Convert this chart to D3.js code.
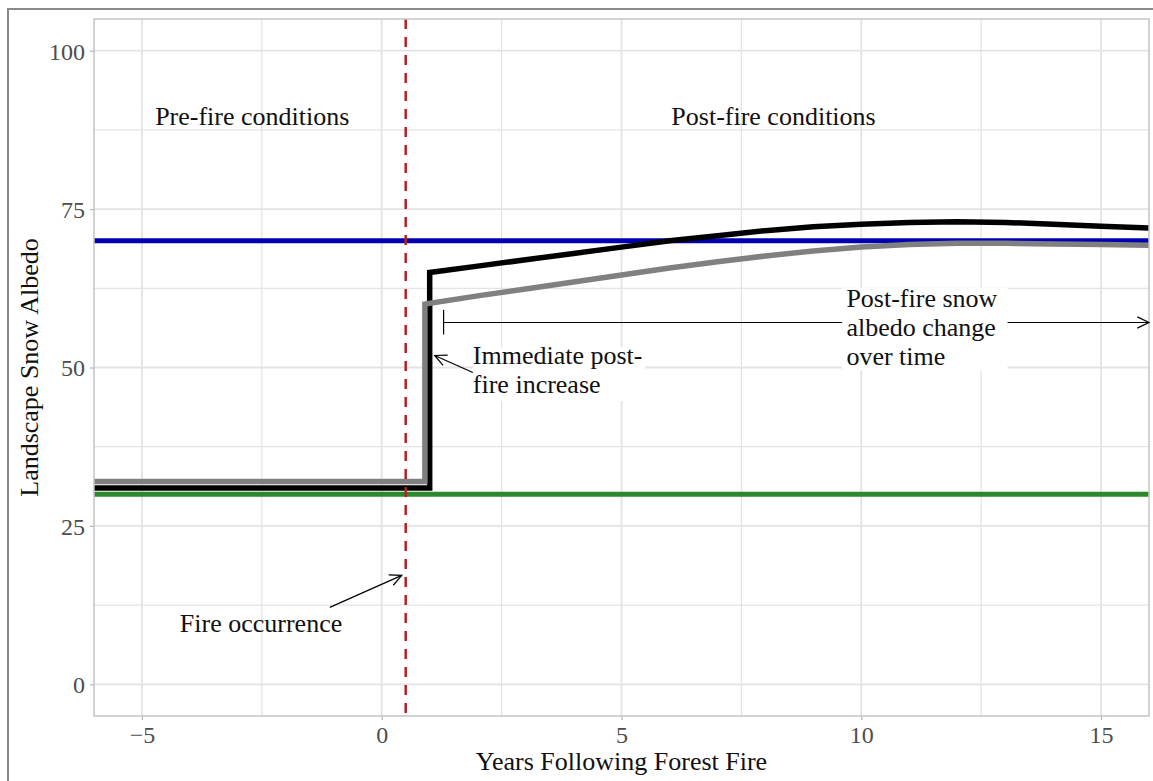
<!DOCTYPE html>
<html>
<head>
<meta charset="utf-8">
<script src="https://cdn.jsdelivr.net/npm/d3@7"></script>
<style>
  html, body { margin: 0; padding: 0; background: #fff; }
  svg { display: block; }
  text { font-family: "Liberation Serif", "Times New Roman", serif; }
</style>
</head>
<body>
<svg id="chart" width="1153" height="781"></svg>
<script>
// ---------- data ----------
const xDomain = [-6, 16];
const yDomain = [-5, 105];
const xTicks = [-5, 0, 5, 10, 15];
const xTickLabels = ["\u22125", "0", "5", "10", "15"];
const xMinor = [-2.5, 2.5, 7.5, 12.5];
const yTicks = [0, 25, 50, 75, 100];
const yTickLabels = ["0", "25", "50", "75", "100"];
const yMinor = [12.5, 37.5, 62.5, 87.5];

const fireYear = 0.5;
const unburnedAlbedo = 30;   // green reference
const openAlbedo = 70;       // blue reference

// black series (years, albedo)
const blackYears  = [-6, 1, 1, 2, 3, 4, 5, 6, 7, 8, 9, 10, 11, 12, 13, 14, 15, 16];
const blackValues = [31, 31, 65, 66, 67, 68, 69, 70, 70.8, 71.6, 72.2, 72.6, 72.9, 73.0, 72.9, 72.6, 72.3, 72.0];
// grey series
const greyYears  = [-6, 0.9, 0.9, 2, 3, 4, 5, 6, 7, 8, 9, 10, 11, 12, 13, 14, 15, 16];
const greyValues = [32, 32, 60, 61.3, 62.4, 63.5, 64.6, 65.7, 66.7, 67.6, 68.4, 69.0, 69.4, 69.6, 69.6, 69.5, 69.4, 69.3];

const xTitle = "Years Following Forest Fire";
const yTitle = "Landscape Snow Albedo";

// ---------- layout ----------
const svg = d3.select("#chart");
const W = 1153, H = 781;
const panel = { left: 94, top: 19, right: 1149, bottom: 716 };
const x = d3.scaleLinear().domain(xDomain).range([panel.left, panel.right]);
const y = d3.scaleLinear().domain(yDomain).range([panel.bottom, panel.top]);
const serif = '"Liberation Serif", "Times New Roman", serif';

svg.append("rect").attr("width", W).attr("height", H).attr("fill", "#fff");
// outer image frame
svg.append("rect").attr("x", 8).attr("y", 9).attr("width", W + 20).attr("height", H + 20)
  .attr("fill", "none").attr("stroke", "#8a8a8a").attr("stroke-width", 2);

const defs = svg.append("defs");
defs.append("clipPath").attr("id", "clip").append("rect")
  .attr("x", panel.left).attr("y", panel.top)
  .attr("width", panel.right - panel.left).attr("height", panel.bottom - panel.top);

// grid
const grid = svg.append("g");
const gridColor = "#e3e3e3";
grid.selectAll(".gxm").data(xMinor).join("line")
  .attr("x1", d => x(d)).attr("x2", d => x(d)).attr("y1", panel.top).attr("y2", panel.bottom)
  .attr("stroke", gridColor).attr("stroke-width", 1.2);
grid.selectAll(".gym").data(yMinor).join("line")
  .attr("y1", d => y(d)).attr("y2", d => y(d)).attr("x1", panel.left).attr("x2", panel.right)
  .attr("stroke", gridColor).attr("stroke-width", 1.2);
grid.selectAll(".gx").data(xTicks).join("line")
  .attr("x1", d => x(d)).attr("x2", d => x(d)).attr("y1", panel.top).attr("y2", panel.bottom)
  .attr("stroke", gridColor).attr("stroke-width", 1.8);
grid.selectAll(".gy").data(yTicks).join("line")
  .attr("y1", d => y(d)).attr("y2", d => y(d)).attr("x1", panel.left).attr("x2", panel.right)
  .attr("stroke", gridColor).attr("stroke-width", 1.8);

// axes
const xAxis = d3.axisBottom(x).tickValues(xTicks).tickSize(4).tickPadding(6)
  .tickFormat((d, i) => xTickLabels[i]);
const yAxis = d3.axisLeft(y).tickValues(yTicks).tickSize(4).tickPadding(5)
  .tickFormat((d, i) => yTickLabels[i]);
const gx = svg.append("g").attr("transform", `translate(0,${panel.bottom})`).call(xAxis);
const gy = svg.append("g").attr("transform", `translate(${panel.left},0)`).call(yAxis);
[gx, gy].forEach(g => {
  g.select(".domain").remove();
  g.selectAll(".tick line").attr("stroke", "#b3b3b3").attr("stroke-width", 1.2);
  g.selectAll(".tick text").attr("fill", "#4d4d4d").style("font-family", serif).style("font-size", "24px");
});
gx.selectAll(".tick text").attr("dy", "0.71em");
gy.selectAll(".tick text").attr("dy", "0.35em");

// plot marks
const plot = svg.append("g").attr("clip-path", "url(#clip)");
const line = d3.line().x(d => x(d[0])).y(d => y(d[1]));

plot.append("line").attr("x1", x(xDomain[0])).attr("x2", x(xDomain[1]))
  .attr("y1", y(openAlbedo)).attr("y2", y(openAlbedo))
  .attr("stroke", "#0000b0").attr("stroke-width", 5);
plot.append("path").datum(d3.zip(blackYears, blackValues)).attr("d", line)
  .attr("fill", "none").attr("stroke", "#000").attr("stroke-width", 5.5).attr("stroke-linejoin", "miter");
plot.append("path").datum(d3.zip(greyYears, greyValues)).attr("d", line)
  .attr("fill", "none").attr("stroke", "#808080").attr("stroke-width", 5.5).attr("stroke-linejoin", "miter");
plot.append("line").attr("x1", x(xDomain[0])).attr("x2", x(xDomain[1]))
  .attr("y1", y(unburnedAlbedo)).attr("y2", y(unburnedAlbedo))
  .attr("stroke", "#2a8a2a").attr("stroke-width", 5);
plot.append("line").attr("x1", x(fireYear)).attr("x2", x(fireYear))
  .attr("y1", panel.top).attr("y2", panel.bottom)
  .attr("stroke", "#b22222").attr("stroke-width", 2.5).attr("stroke-dasharray", "10,8");

// panel border
svg.append("rect").attr("x", panel.left).attr("y", panel.top)
  .attr("width", panel.right - panel.left).attr("height", panel.bottom - panel.top)
  .attr("fill", "none").attr("stroke", "#c4c4c4").attr("stroke-width", 1.5);

// ---------- annotations ----------
const ann = svg.append("g");
function arrow(x1, y1, x2, y2) {
  const X1 = x(x1), Y1 = y(y1), X2 = x(x2), Y2 = y(y2);
  ann.append("line").attr("x1", X1).attr("y1", Y1).attr("x2", X2).attr("y2", Y2)
    .attr("stroke", "#000").attr("stroke-width", 1.2);
  const ang = Math.atan2(Y2 - Y1, X2 - X1), L = 13, a = Math.PI / 7;
  const p = [
    [X2 - L * Math.cos(ang - a), Y2 - L * Math.sin(ang - a)],
    [X2, Y2],
    [X2 - L * Math.cos(ang + a), Y2 - L * Math.sin(ang + a)]
  ];
  ann.append("path").attr("d", d3.line()(p)).attr("fill", "none")
    .attr("stroke", "#000").attr("stroke-width", 1.2);
}
function label(lines, xv, yv, anchor, lh) {
  const t = ann.append("text").attr("x", x(xv)).attr("y", y(yv))
    .attr("text-anchor", anchor).attr("fill", "#111")
    .style("font-family", serif).style("font-size", "26px");
  lines.forEach((s, i) => t.append("tspan").attr("x", x(xv)).attr("dy", i === 0 ? 0 : lh).text(s));
  return t;
}
function whiteBox(x0, y0, x1, y1) {
  ann.append("rect").attr("x", x(x0)).attr("y", y(y0))
    .attr("width", x(x1) - x(x0)).attr("height", y(y1) - y(y0)).attr("fill", "#fff");
}

label(["Pre-fire conditions"], -2.7, 88.2, "middle", 0);
label(["Post-fire conditions"], 8.17, 88.2, "middle", 0);

// post-fire change arrow with bar
arrow(1.29, 57.1, 16, 57.1);
ann.append("line").attr("x1", x(1.29)).attr("x2", x(1.29)).attr("y1", y(59.1)).attr("y2", y(55.2))
  .attr("stroke", "#000").attr("stroke-width", 1.2);
whiteBox(9.6, 62.6, 13.05, 49.5);
label(["Post-fire snow", "albedo change", "over time"], 9.69, 59.6, "start", 29);

// immediate increase
whiteBox(1.9, 53.2, 5.5, 44.7);
arrow(1.9, 49.2, 1.104, 51.9);
label(["Immediate post-", "fire increase"], 1.9, 50.6, "start", 29);

// fire occurrence
arrow(-1.083, 12.15, 0.417, 17.2);
label(["Fire occurrence"], -4.21, 8.2, "start", 0);

// axis titles
svg.append("text").attr("x", (panel.left + panel.right) / 2).attr("y", 770)
  .attr("text-anchor", "middle").attr("fill", "#111")
  .style("font-family", serif).style("font-size", "26px").text(xTitle);
svg.append("text").attr("transform", `translate(38,${(panel.top + panel.bottom) / 2}) rotate(-90)`)
  .attr("text-anchor", "middle").attr("fill", "#111")
  .style("font-family", serif).style("font-size", "26px").text(yTitle);
</script>
</body>
</html>
